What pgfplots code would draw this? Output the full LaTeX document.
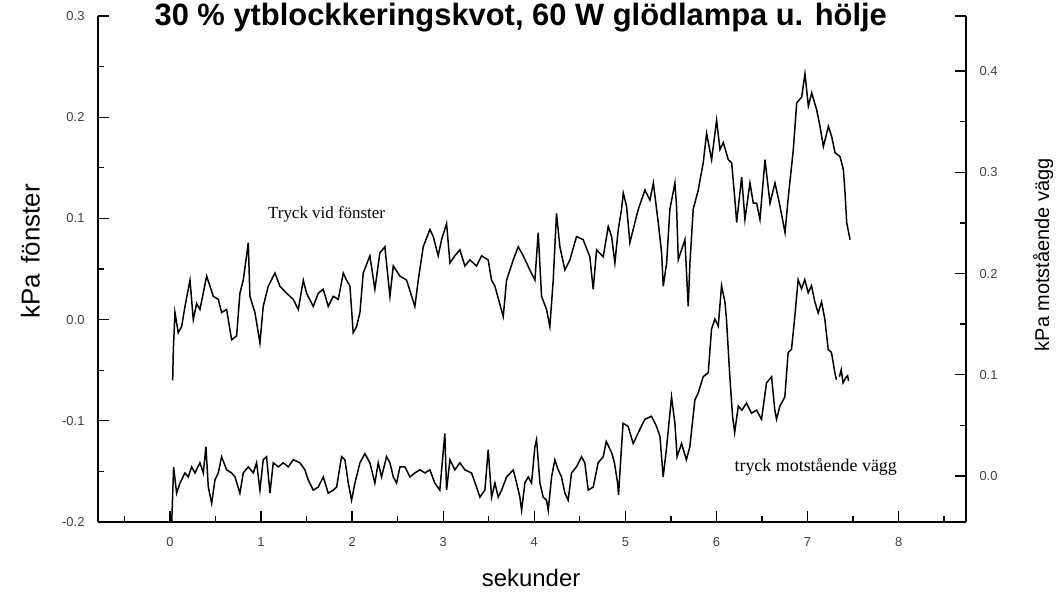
\documentclass[border=0pt]{standalone}
\usepackage{pgfplots}
\pgfplotsset{compat=1.18}
\usepackage{fontspec}
\setmainfont{Liberation Sans}
\newfontfamily\serif{Liberation Serif}

\begin{document}
\begin{tikzpicture}
% pressure at the window, left axis
\begin{axis}[
  name=main,
  scale only axis, width=868bp, height=506bp,
  xmin=-0.79, xmax=8.74, ymin=-0.2, ymax=0.3,
  axis x line*=bottom, axis y line*=left,
  axis line style={line width=1.5bp, black},
  tick align=inside,
  major tick length=11bp, minor tick length=6bp,
  every tick/.style={line width=1.3bp, black},
  xtick={0,1,...,8}, minor xtick={-0.5,0.5,1.5,...,8.5},
  ytick={-0.2,-0.1,0,0.1,0.2,0.3},
  yticklabels={-0.2,-0.1,0.0,0.1,0.2,0.3},
  minor ytick={-0.15,-0.05,0.05,0.15,0.25},
  /pgf/number format/assume math mode=true,
  ticklabel style={font=\fontsize{13}{15}\selectfont, text=black!75},
  yticklabel style={xshift=-10bp},
  xticklabel style={yshift=-12bp},
  every axis y label/.style={at={(axis description cs:-0.078,0.535)}, rotate=90, anchor=center},
  every axis x label/.style={at={(axis description cs:0.499,-0.111)}, anchor=center},
  ylabel={\fontsize{26}{30}\selectfont kPa\hspace{0.4em}fönster},
  xlabel={\fontsize{24}{28}\selectfont sekunder},
  clip=false,
]
\addplot[black, line width=1.5bp] coordinates {
(0.03,-0.06) (0.037,-0.030) (0.055,0.007) (0.091,-0.013) (0.128,-0.007)
(0.165,0.013) (0.220,0.039) (0.256,0.000) (0.293,0.016) (0.329,0.010)
(0.403,0.043) (0.476,0.023) (0.531,0.020) (0.567,0.007) (0.622,0.010)
(0.677,-0.020) (0.732,-0.016) (0.768,0.026) (0.805,0.039) (0.860,0.076)
(0.878,0.023) (0.933,0.007) (0.988,-0.023) (1.024,0.013) (1.079,0.033)
(1.153,0.046) (1.207,0.033) (1.281,0.026) (1.354,0.020) (1.409,0.010)
(1.464,0.039) (1.500,0.026) (1.573,0.013) (1.628,0.026) (1.683,0.030)
(1.738,0.013) (1.793,0.023) (1.848,0.020) (1.903,0.046) (1.939,0.039)
(1.976,0.033) (2.012,-0.013) (2.049,-0.007) (2.086,0.007) (2.122,0.046)
(2.195,0.063) (2.250,0.030) (2.305,0.066) (2.360,0.072) (2.415,0.023)
(2.452,0.053) (2.525,0.043) (2.598,0.039) (2.689,0.013) (2.726,0.039)
(2.781,0.072) (2.854,0.089) (2.891,0.082) (2.945,0.063) (2.982,0.079)
(3.037,0.095) (3.074,0.056) (3.128,0.063) (3.183,0.069) (3.238,0.053)
(3.293,0.059) (3.366,0.053) (3.421,0.063) (3.494,0.059) (3.531,0.039)
(3.568,0.033) (3.659,0.003) (3.696,0.039) (3.769,0.059) (3.824,0.072)
(3.879,0.063) (3.952,0.049) (4.007,0.039) (4.043,0.086) (4.080,0.023)
(4.135,0.010) (4.171,-0.007) (4.208,0.039) (4.244,0.105) (4.281,0.072)
(4.336,0.049) (4.391,0.059) (4.464,0.082) (4.537,0.079) (4.610,0.062)
(4.647,0.030) (4.684,0.069) (4.757,0.062) (4.812,0.092) (4.849,0.082)
(4.885,0.056) (4.922,0.089) (4.958,0.109) (4.977,0.125) (5.013,0.112)
(5.050,0.076) (5.105,0.096) (5.142,0.109) (5.215,0.128) (5.270,0.118)
(5.307,0.135) (5.361,0.096) (5.398,0.066) (5.416,0.033) (5.453,0.056)
(5.489,0.109) (5.544,0.135) (5.562,0.112) (5.581,0.059) (5.617,0.069)
(5.654,0.079) (5.690,0.013) (5.709,0.056) (5.745,0.109) (5.800,0.128)
(5.855,0.155) (5.892,0.184) (5.947,0.158) (6.002,0.197) (6.039,0.168)
(6.075,0.175) (6.130,0.158) (6.167,0.155) (6.203,0.118) (6.222,0.096)
(6.277,0.141) (6.313,0.099) (6.368,0.135) (6.405,0.115) (6.441,0.115)
(6.478,0.099) (6.533,0.158) (6.588,0.115) (6.643,0.135) (6.698,0.112)
(6.753,0.086) (6.790,0.122) (6.844,0.168) (6.881,0.214) (6.936,0.220)
(6.972,0.243) (7.009,0.211) (7.046,0.224) (7.101,0.207) (7.137,0.191)
(7.174,0.171) (7.229,0.191) (7.265,0.181) (7.302,0.165) (7.357,0.161)
(7.394,0.148) (7.412,0.125) (7.430,0.096) (7.467,0.079)
};
\node[font=\serif\fontsize{17}{20}\selectfont, anchor=center] at (axis cs:1.72,0.104) {Tryck vid fönster};
\node[font=\serif\fontsize{18}{21}\selectfont, anchor=center] at (axis cs:7.09,-0.146) {tryck motstående vägg};
\node[font=\bfseries\fontsize{31}{36}\selectfont, anchor=base] at (rel axis cs:0.487,0.981) {30 \% ytblockkeringskvot, 60 W glödlampa u. hölje};
\end{axis}

% pressure at the opposite wall, right axis
\begin{axis}[
  scale only axis, width=868bp, height=506bp,
  xmin=-0.79, xmax=8.74, ymin=-0.0455, ymax=0.4545,
  axis x line=none, axis y line*=right,
  axis line style={line width=1.5bp, black},
  tick align=inside,
  major tick length=11bp, minor tick length=6bp,
  every tick/.style={line width=1.3bp, black},
  ytick={0,0.1,0.2,0.3,0.4},
  yticklabels={0.0,0.1,0.2,0.3,0.4},
  minor ytick={0.05,0.15,0.25,0.35},
  extra y ticks={0.4545}, extra y tick labels={},
  /pgf/number format/assume math mode=true,
  ticklabel style={font=\fontsize{13}{15}\selectfont, text=black!75},
  yticklabel style={xshift=10bp},
  clip=false,
]
\addplot[black, line width=1.5bp] coordinates {
(0.02,-0.045) (0.04,0.009) (0.073,-0.017) (0.110,-0.007) (0.165,0.003)
(0.201,-0.001) (0.238,0.009) (0.275,0.003) (0.329,0.013) (0.366,0.003)
(0.395,0.029) (0.421,-0.011) (0.458,-0.027) (0.494,-0.004) (0.531,0.003)
(0.567,0.019) (0.622,0.006) (0.677,0.003) (0.714,-0.001) (0.768,-0.017)
(0.805,0.003) (0.860,0.009) (0.915,0.003) (0.951,0.013) (0.988,-0.014)
(1.024,0.016) (1.061,0.019) (1.098,-0.017) (1.134,0.013) (1.189,0.009)
(1.244,0.013) (1.299,0.009) (1.354,0.016) (1.427,0.013) (1.482,0.006)
(1.518,-0.004) (1.573,-0.014) (1.628,-0.011) (1.683,-0.001) (1.738,-0.017)
(1.793,-0.014) (1.830,-0.011) (1.884,0.019) (1.921,0.016) (1.958,-0.007)
(1.994,-0.024) (2.031,-0.007) (2.086,0.013) (2.140,0.022) (2.195,0.013)
(2.250,-0.007) (2.287,0.013) (2.323,-0.001) (2.378,0.019) (2.415,0.013)
(2.452,-0.001) (2.488,-0.007) (2.525,0.009) (2.580,0.009) (2.635,-0.001)
(2.689,0.003) (2.744,0.006) (2.799,0.003) (2.854,0.006) (2.908,-0.007)
(2.963,-0.014) (3.018,0.042) (3.037,-0.014) (3.074,0.016) (3.128,0.006)
(3.183,0.013) (3.238,0.006) (3.311,0.003) (3.366,-0.011) (3.403,-0.021)
(3.458,-0.014) (3.494,0.026) (3.531,-0.021) (3.568,-0.007) (3.604,-0.021)
(3.641,-0.014) (3.696,-0.001) (3.769,0.006) (3.806,-0.007) (3.842,-0.021)
(3.861,-0.034) (3.897,-0.007) (3.933,-0.001) (3.970,-0.007) (4.007,0.029)
(4.025,0.036) (4.062,-0.007) (4.098,-0.021) (4.135,-0.024) (4.153,-0.034)
(4.190,-0.001) (4.226,0.016) (4.263,0.006) (4.299,-0.001) (4.336,-0.017)
(4.372,-0.024) (4.409,0.003) (4.464,0.009) (4.519,0.019) (4.555,0.013)
(4.592,-0.014) (4.647,-0.011) (4.701,0.013) (4.757,0.019) (4.79,0.034)
(4.85,0.023) (4.88,0.013) (4.915,-0.007) (4.925,-0.019) (4.96,0.032)
(4.975,0.052) (5.03,0.049) (5.086,0.032) (5.159,0.046) (5.214,0.056)
(5.287,0.059) (5.342,0.049) (5.38,0.039) (5.415,-0.001) (5.45,0.026)
(5.507,0.078) (5.544,0.052) (5.568,0.019) (5.617,0.032) (5.67,0.016)
(5.708,0.029) (5.763,0.075) (5.80,0.082) (5.854,0.098) (5.91,0.102)
(5.946,0.145) (5.983,0.155) (6.02,0.148) (6.056,0.188) (6.093,0.172)
(6.11,0.155) (6.147,0.098) (6.177,0.059) (6.20,0.043) (6.24,0.069)
(6.28,0.065) (6.33,0.072) (6.385,0.062) (6.44,0.065) (6.495,0.056)
(6.55,0.092) (6.605,0.098) (6.641,0.065) (6.66,0.056) (6.696,0.069)
(6.751,0.078) (6.787,0.122) (6.824,0.125) (6.861,0.158) (6.897,0.194)
(6.934,0.185) (6.97,0.194) (7.007,0.181) (7.044,0.188) (7.08,0.172)
(7.117,0.161) (7.154,0.172) (7.19,0.155) (7.227,0.125) (7.263,0.122)
(7.30,0.102) (7.318,0.095)
};
\addplot[black, line width=1.5bp] coordinates {
(7.35,0.098) (7.37,0.105) (7.39,0.092) (7.42,0.097) (7.44,0.099) (7.45,0.094)
};
\node[rotate=90, font=\fontsize{20}{24}\selectfont, anchor=center] at (rel axis cs:1.089,0.528) {kPa motstående vägg};
\end{axis}

\pgfresetboundingbox
\path[use as bounding box] ([xshift=-98bp,yshift=-80bp]main.south west) rectangle ([xshift=91bp,yshift=16bp]main.north east);
\end{tikzpicture}
\end{document}
